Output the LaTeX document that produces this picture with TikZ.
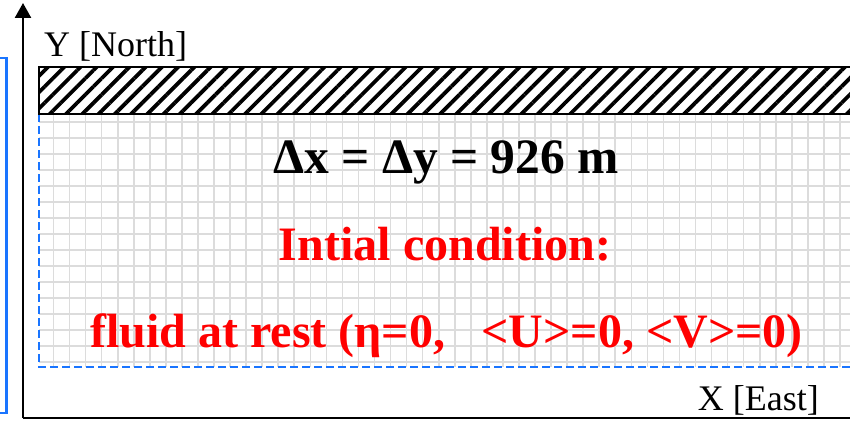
\documentclass[tikz,border=0pt]{standalone}
\usepackage{fontspec}
\setmainfont{Liberation Serif}
\usepackage{xcolor}
\usetikzlibrary{arrows.meta, patterns.meta}
\definecolor{domblue}{HTML}{1A75FF}
\definecolor{gridgray}{HTML}{DCDCDC}
\tikzset{
  axisline/.style={line width=2.5pt, black},
  gridline/.style={gridgray, line width=1.6pt},
  wall/.style={draw, line width=1.5pt, pattern={Lines[angle=45,distance=11.5pt,line width=3.8pt]}},
  axislabel/.style={inner sep=0pt, font=\fontsize{36}{40}\selectfont},
  bigtext/.style={inner sep=0pt, font=\fontsize{48}{52}\selectfont\bfseries},
}

\begin{document}
\begin{tikzpicture}[x=1pt, y=1pt]
  \useasboundingbox (0,0) rectangle (850,424);
  \clip (0,0) rectangle (850,424);
  % outer domain box
  \draw[domblue, line width=2.5pt] (-20,11) rectangle (6.5,366);
  % grid
  \foreach \y in {62,78,...,302}
    \draw[gridline] (39,\y) -- (870,\y);
  \foreach \i in {0,...,49}
    \draw[gridline] ({53.5+16.05*\i},57) -- ({53.5+16.05*\i},310);
  % computational domain
  \draw[domblue, line width=2pt, dash pattern=on 8pt off 4pt] (39,310) -- (39,57) -- (870,57);
  % land
  \draw[wall] (39,310) rectangle (870,357);
  % axes
  \coordinate (o) at (23,6);
  \coordinate (ytip) at (23,421);
  \coordinate (xend) at (870,6);
  \draw[axisline, -{Triangle[length=15pt, width=16pt]}] (o) -- (ytip);
  \draw[axisline] (o) -- (xend);
  \node[axislabel, anchor=base west] (ylab) at (44,367) {Y [North]};
  \node[axislabel, anchor=base east] (xlab) at (819,14) {X [East]};
  \node[bigtext, anchor=base, font=\fontsize{49.5}{52}\selectfont\bfseries] (res) at (446,251) {Δx = Δy = 926 m};
  \node[bigtext, red, anchor=base] (ic) at (445,164) {Intial condition:};
  \node[bigtext, red, anchor=base] (rest) at (446.5,77) {fluid at rest (η=0,\ \ \ <U>=0, <V>=0)};
\end{tikzpicture}
\end{document}
